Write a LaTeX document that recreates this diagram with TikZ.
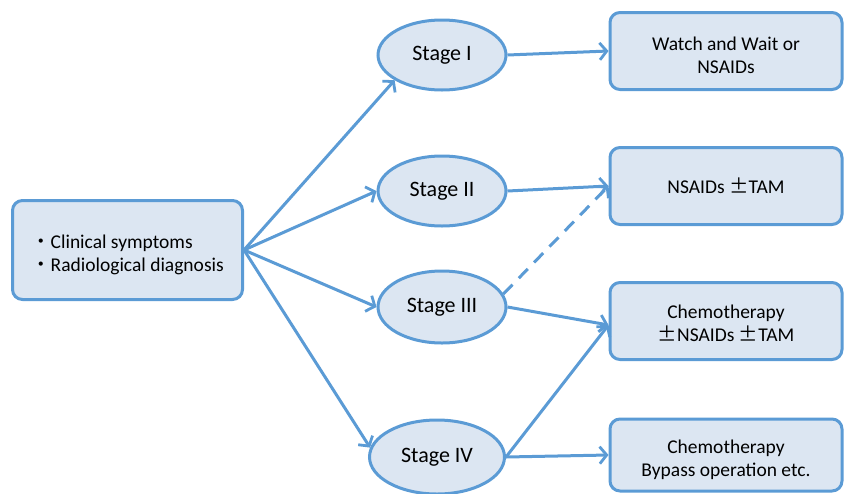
\documentclass[tikz,border=0pt]{standalone}
\usepackage{fontspec}
\setmainfont{Carlito}
\newfontfamily\cjkfont{Noto Sans CJK JP}
\usetikzlibrary{shapes.geometric,arrows.meta}
\definecolor{edgeblue}{HTML}{5B9BD5}
\definecolor{fillblue}{HTML}{DCE6F2}
\tikzset{
  box/.style={draw=edgeblue, fill=fillblue, line width=3pt, rounded corners=10pt, align=center, font=\fontsize{19.5}{24}\selectfont, inner sep=0pt},
  txt/.style={align=center, font=\fontsize{19.5}{23}\selectfont, inner sep=0pt, yshift=-4pt},
  stagebox/.style={draw=edgeblue, fill=fillblue, ellipse, line width=3pt, inner sep=0pt, font=\fontsize{22}{26}\selectfont},
  arr/.style={draw=edgeblue, line width=3pt, -{Straight Barb[length=7pt,width=17pt,line width=2.8pt]}},
}
\begin{document}
\begin{tikzpicture}[x=1pt,y=-1pt]
\useasboundingbox (0,0) rectangle (845,493);
\node[box, minimum width=230pt, minimum height=99pt, label={[txt, align=left, yshift=-1pt]center:{{\cjkfont ・}Clinical symptoms\\{\cjkfont ・}Radiological diagnosis}}] (src) at (127.5,250) {};
\node[stagebox, minimum width=128pt, minimum height=70pt] (s1) at (442,55) {Stage I};
\node[stagebox, minimum width=128pt, minimum height=70pt] (s2) at (442,191) {Stage II};
\node[stagebox, minimum width=128pt, minimum height=72pt] (s3) at (442,307) {Stage III};
\node[stagebox, minimum width=135pt, minimum height=74pt] (s4) at (437,457) {Stage IV};
\node[box, minimum width=232pt, minimum height=77pt, label={[txt]center:{Watch and Wait or\\NSAIDs}}] (b1) at (726,51) {};
\node[box, minimum width=232pt, minimum height=77pt] (b2) at (726,186) {NSAIDs {\cjkfont ±}TAM};
\node[box, minimum width=232pt, minimum height=77pt, label={[txt, yshift=2pt]center:{Chemotherapy\\{\cjkfont ±}NSAIDs {\cjkfont ±}TAM}}] (b3) at (726,321) {};
\node[box, minimum width=232pt, minimum height=72pt, label={[txt, yshift=-1pt]center:{Chemotherapy\\Bypass operation etc.}}] (b4) at (726,455) {};
\draw[arr] (src.east) -- (s1.208);
\draw[arr] (src.east) -- (s2.west);
\draw[arr] (src.east) -- (s3.west);
\draw[arr] (src.east) -- (s4.172);
\draw[arr] (s1.east) -- (b1.west);
\draw[arr] (s2.east) -- (b2.west);
\draw[arr, dashed, dash pattern=on 13pt off 9pt] (s3.12) -- (b2.west);
\draw[arr] (s3.east) -- ([yshift=-4pt]b3.west);
\draw[arr] (s4.east) -- ([yshift=-4pt]b3.west);
\draw[arr] (s4.east) -- (b4.west);
\end{tikzpicture}
\end{document}
